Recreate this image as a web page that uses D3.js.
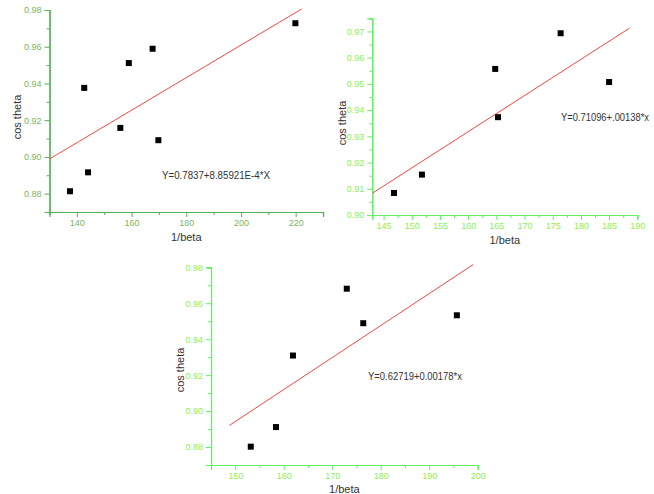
<!DOCTYPE html>
<html>
<head>
<meta charset="utf-8">
<script src="https://cdn.jsdelivr.net/npm/d3@7"></script>
<style>
  html, body { margin: 0; padding: 0; background: #fff; }
  svg { display: block; font-family: "Liberation Sans", Arial, sans-serif; }
</style>
</head>
<body>
<svg id="chart" width="654" height="494"></svg>
<script>
// Measured samples: 1/beta against cos theta, three runs
const run1X = [137.5, 142.7, 144.1, 155.9, 159.0, 167.7, 169.8, 219.9];
const run1Y = [0.8813, 0.9376, 0.8916, 0.9158, 0.9511, 0.9589, 0.9091, 0.9728];
const run2X = [146.85, 151.8, 164.8, 165.3, 176.4, 185.0];
const run2Y = [0.9084, 0.9154, 0.9557, 0.9373, 0.9693, 0.9507];
const run3X = [153.2, 158.4, 161.9, 173.0, 176.4, 195.7];
const run3Y = [0.8802, 0.8911, 0.9309, 0.9681, 0.9489, 0.9533];

// Linear fits: intercept, slope, and the x span over which each fit is drawn
const fitIntercepts = [0.7837, 0.71096, 0.62719];
const fitSlopes = [8.85921e-4, 0.00138, 0.00178];
const fitSpans = [[130, 222.2], [143, 188.6], [148.8, 199.1]];
const fitLabels = ["Y=0.7837+8.85921E-4*X", "Y=0.71096+.00138*x", "Y=0.62719+0.00178*x"];

// Axis ranges and ticks per panel
const xDomains = [[130, 230], [143, 190], [145, 200]];
const yDomains = [[0.87, 0.98], [0.90, 0.975], [0.87, 0.98]];
const xMajor = [[140, 160, 180, 200, 220], [145, 150, 155, 160, 165, 170, 175, 180, 185, 190], [150, 160, 170, 180, 190, 200]];
const xMinor = [[130, 150, 170, 190, 210, 230], [147.5, 152.5, 157.5, 162.5, 167.5, 172.5, 177.5, 182.5, 187.5], [145, 155, 165, 175, 185, 195]];
const yMajor = [[0.88, 0.90, 0.92, 0.94, 0.96, 0.98], [0.90, 0.91, 0.92, 0.93, 0.94, 0.95, 0.96, 0.97], [0.88, 0.90, 0.92, 0.94, 0.96, 0.98]];
const yMinor = [[0.89, 0.91, 0.93, 0.95, 0.97], [0.905, 0.915, 0.925, 0.935, 0.945, 0.955, 0.965, 0.975], [0.89, 0.91, 0.93, 0.95, 0.97]];
const xTitle = "1/beta";
const yTitle = "cos theta";

const svg = d3.select("#chart");

// Layout of each panel (plot frame in pixels, text placement, colours)
const panels = [
  { xs: run1X, ys: run1Y, left: 49.5, right: 323, top: 10, bottom: 212,
    axisColor: "#55b055", labelColor: "#7fb35a",
    yTitleX: 17, yTitleY: 117, xTitleY: 241, fitLabelX: 162, fitLabelY: 179, fitLabelW: 108 },
  { xs: run2X, ys: run2Y, left: 372.3, right: 637.3, top: 18.3, bottom: 215,
    axisColor: "#66ee66", labelColor: "#8fee55",
    yTitleX: 342, yTitleY: 123, xTitleY: 244, fitLabelX: 561, fitLabelY: 121, fitLabelW: 88 },
  { xs: run3X, ys: run3Y, left: 211, right: 477.7, top: 267.3, bottom: 465,
    axisColor: "#66ee66", labelColor: "#8fee55",
    yTitleX: 180, yTitleY: 370, xTitleY: 493, fitLabelX: 368, fitLabelY: 380, fitLabelW: 94 }
];

panels.forEach((p, i) => {
  const x = d3.scaleLinear().domain(xDomains[i]).range([p.left, p.right]);
  const y = d3.scaleLinear().domain(yDomains[i]).range([p.bottom, p.top]);
  const g = svg.append("g");

  // Minor ticks
  const xMin = d3.axisBottom(x).tickValues(xMinor[i]).tickSize(3).tickFormat("");
  const yMin = d3.axisLeft(y).tickValues(yMinor[i]).tickSize(3).tickFormat("");
  // Major ticks with labels
  const xAx = d3.axisBottom(x).tickValues(xMajor[i]).tickSize(5).tickPadding(3).tickFormat(d3.format("d"));
  const yAx = d3.axisLeft(y).tickValues(yMajor[i]).tickSize(5).tickPadding(3).tickFormat(d3.format(".2f"));

  [xMin, xAx].forEach(ax => {
    g.append("g").attr("transform", `translate(0,${p.bottom})`).call(ax);
  });
  [yMin, yAx].forEach(ax => {
    g.append("g").attr("transform", `translate(${p.left},0)`).call(ax);
  });

  g.selectAll(".domain").attr("stroke", p.axisColor).attr("stroke-width", 1.2);
  g.selectAll(".tick line").attr("stroke", p.axisColor).attr("stroke-width", 1);
  g.selectAll(".tick text").attr("fill", p.labelColor).attr("font-size", 9)
    .attr("font-family", "'Liberation Sans', Arial, sans-serif");

  // Fit line
  const span = fitSpans[i];
  const fitPts = span.map(v => [v, fitIntercepts[i] + fitSlopes[i] * v]);
  g.append("path")
    .attr("d", d3.line().x(d => x(d[0])).y(d => y(d[1]))(fitPts))
    .attr("fill", "none").attr("stroke", "#f04848").attr("stroke-width", 1);

  // Sample markers
  const pts = p.xs.map((v, k) => [v, p.ys[k]]);
  g.selectAll("rect.pt").data(pts).join("rect")
    .attr("class", "pt")
    .attr("x", d => x(d[0]) - 3).attr("y", d => y(d[1]) - 3)
    .attr("width", 6).attr("height", 6).attr("fill", "#000");

  // Fit equation
  g.append("text").attr("x", p.fitLabelX).attr("y", p.fitLabelY)
    .attr("font-size", 10).attr("fill", "#333")
    .attr("textLength", p.fitLabelW).attr("lengthAdjust", "spacingAndGlyphs")
    .text(fitLabels[i]);

  // Axis titles
  g.append("text").attr("x", (p.left + p.right) / 2).attr("y", p.xTitleY)
    .attr("text-anchor", "middle").attr("font-size", 11).attr("fill", "#333").text(xTitle);
  g.append("text")
    .attr("transform", `translate(${p.yTitleX},${p.yTitleY}) rotate(-90)`)
    .attr("text-anchor", "middle").attr("dy", "0.35em")
    .attr("font-size", 11).attr("fill", "#333").text(yTitle);
});
</script>
</body>
</html>
